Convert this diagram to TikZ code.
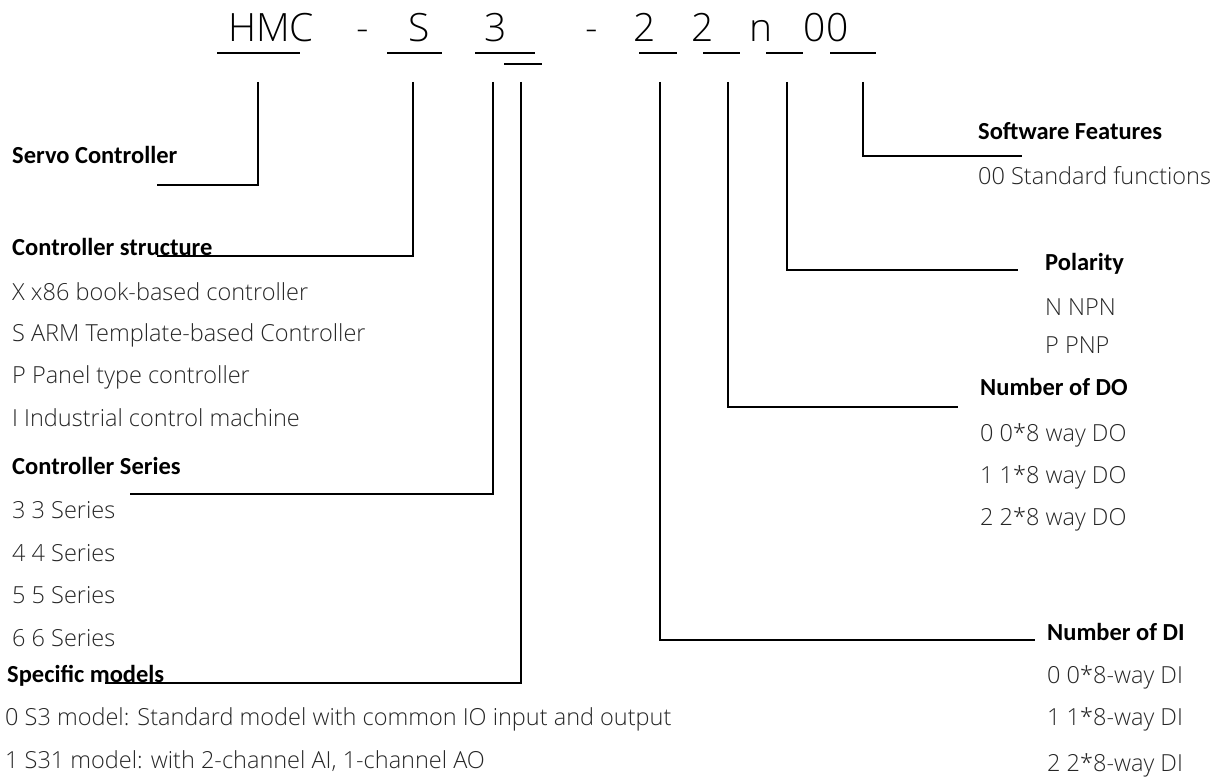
\documentclass[tikz,border=0pt]{standalone}
\usepackage{fontspec}
\newfontfamily\itemfont{Open Sans Light}
\newfontfamily\lblfont{Carlito}
\tikzset{
  hdr/.style={anchor=base, inner sep=0pt, font=\itemfont\fontsize{39}{44}\selectfont},
  item/.style={anchor=base west, inner sep=0pt, font=\itemfont\fontsize{23.5}{27}\selectfont, text=black!85},
  lbl/.style={anchor=base west, inner sep=0pt, font=\lblfont\bfseries\fontsize{24.5}{28}\selectfont},
  ln/.style={line width=1.6pt, black},
  ul/.style={line width=1.3pt, black}
}
\begin{document}
\begin{tikzpicture}[x=1pt,y=-1pt]
\useasboundingbox (0,0) rectangle (1231,778);
% header code
\node[hdr] (hHMC) at (271,42) {HMC};
\node[hdr] (hd1) at (363,42) {-};
\node[hdr] (hS) at (419,42) {S};
\node[hdr] (h3) at (496,42) {3};
\node[hdr] (hd2) at (592,42) {-};
\node[hdr] (hDI) at (645,42) {2};
\node[hdr] (hDO) at (703,42) {2};
\node[hdr] (hn) at (761,42) {n};
\node[hdr] (h00) at (826,42) {00};
% underlines
\draw[ul] (217,53) -- (300,53);
\draw[ul] (387,53) -- (442,53);
\draw[ul] (475,53) -- (535,53);
\draw[ul] (504,64) -- (542,64);
\draw[ul] (639,53) -- (677,53);
\draw[ul] (703,53) -- (740,53);
\draw[ul] (766,53) -- (803,53);
\draw[ul] (830,53) -- (876,53);
% line tops
\coordinate (tA) at (258,82);
\coordinate (tB) at (413,82);
\coordinate (tC) at (493,82);
\coordinate (tD) at (521,82);
\coordinate (tE) at (660,82);
\coordinate (tF) at (728,82);
\coordinate (tG) at (787,82);
\coordinate (tH) at (863,82);
% line ends
\coordinate (eA) at (157,185);
\coordinate (eB) at (157,256);
\coordinate (eC) at (130,494);
\coordinate (eD) at (105,683);
\coordinate (eE) at (1035,640);
\coordinate (eF) at (958,407);
\coordinate (eG) at (1018,270);
\coordinate (eH) at (1022,156);
\draw[ln] (tA) |- (eA);
\draw[ln] (tB) |- (eB);
\draw[ln] (tC) |- (eC);
\draw[ln] (tD) |- (eD);
\draw[ln] (tE) |- (eE);
\draw[ln] (tF) |- (eF);
\draw[ln] (tG) |- (eG);
\draw[ln] (tH) |- (eH);
% left labels
\node[lbl] (servo) at (12,164) {Servo Controller};
\node[lbl] (struct) at (12,255) {Controller structure};
\node[item] (s1) at (12,300) {X x86 book-based controller};
\node[item] (s2) at (12,341) {S ARM Template-based Controller};
\node[item] (s3) at (12,383) {P Panel type controller};
\node[item] (s4) at (12,426) {I Industrial control machine};
\node[lbl] (series) at (12,474) {Controller Series};
\node[item] (r1) at (12,518) {3 3 Series};
\node[item] (r2) at (12,561) {4 4 Series};
\node[item] (r3) at (12,603) {5 5 Series};
\node[item] (r4) at (12,646) {6 6 Series};
\node[lbl] (spec) at (7,682) {Specific models};
\node[item] (m1) at (5,725) {0 S3 model: Standard model with common IO input and output};
\node[item] (m2) at (5,768) {1 S31 model: with 2-channel AI, 1-channel AO};
% right labels
\node[lbl] (soft) at (978,140) {Software Features};
\node[item] (f1) at (978,185) {00 Standard functions};
\node[lbl] (pol) at (1045,270) {Polarity};
\node[item] (p1) at (1045,315) {N NPN};
\node[item] (p2) at (1045,353) {P PNP};
\node[lbl] (dout) at (980,395) {Number of DO};
\node[item] (o1) at (980,441) {0 0*8 way DO};
\node[item] (o2) at (980,483) {1 1*8 way DO};
\node[item] (o3) at (980,525) {2 2*8 way DO};
\node[lbl] (din) at (1047,640) {Number of DI};
\node[item] (i1) at (1047,683) {0 0*8-way DI};
\node[item] (i2) at (1047,725) {1 1*8-way DI};
\node[item] (i3) at (1047,771) {2 2*8-way DI};
\end{tikzpicture}
\end{document}
